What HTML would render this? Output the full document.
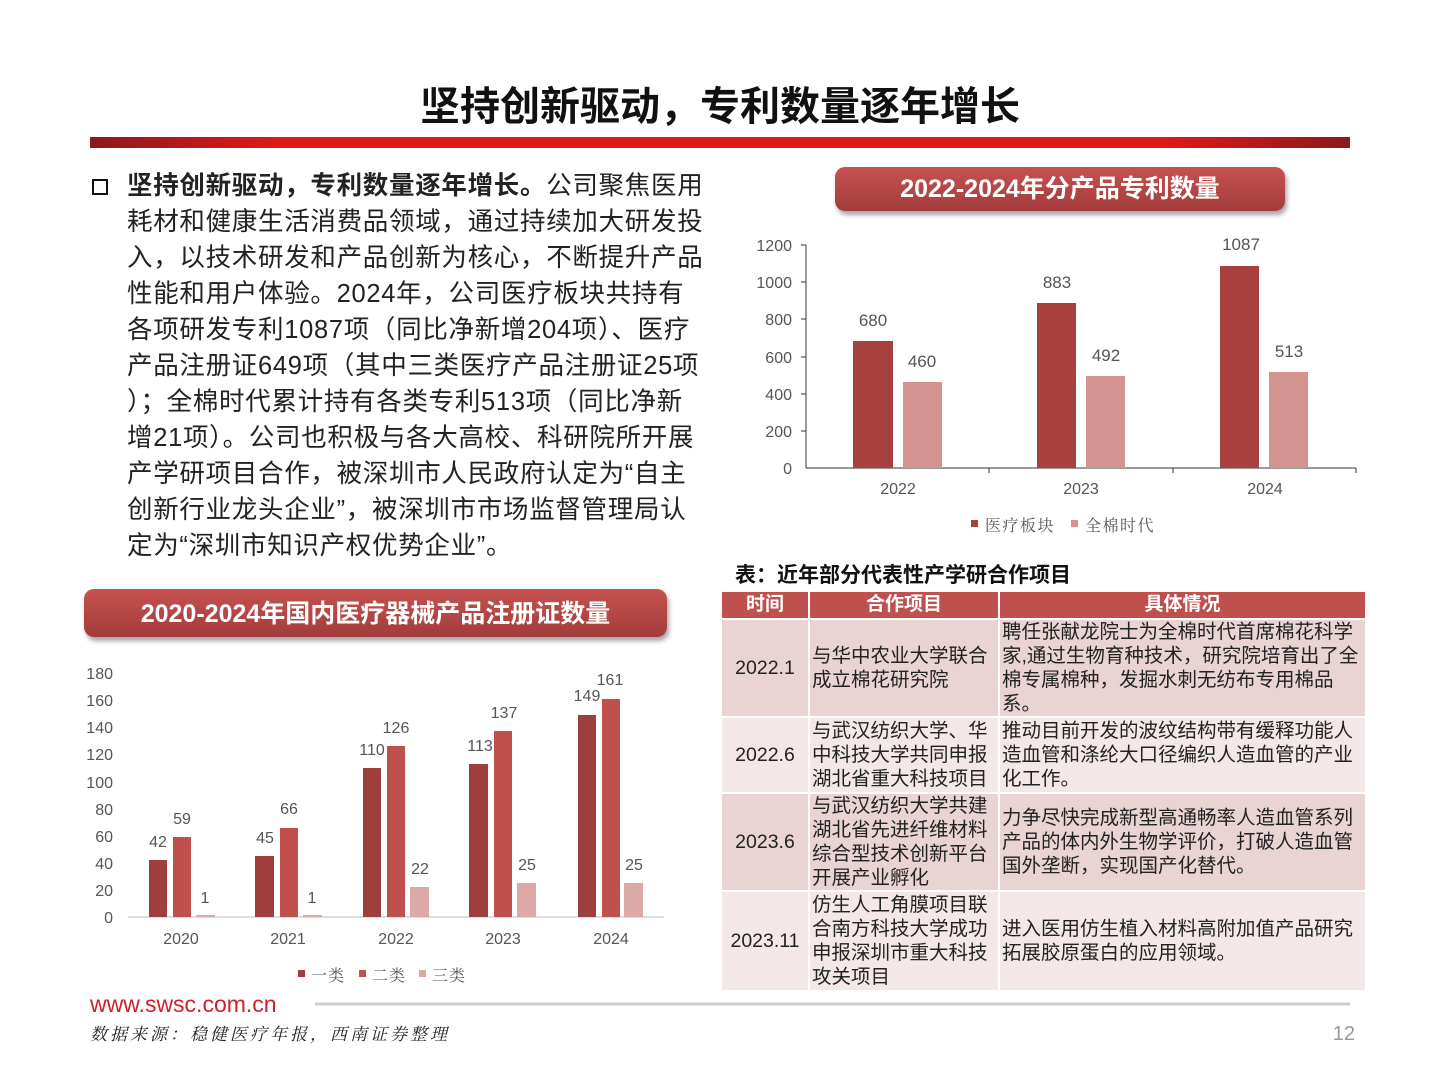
<!DOCTYPE html>
<html><head><meta charset="utf-8"><style>
*{margin:0;padding:0;box-sizing:border-box}
body{width:1440px;height:1080px;background:#fff;position:relative;overflow:hidden;font-family:"Liberation Sans","Noto Sans CJK SC",sans-serif;color:#222}
.abs{position:absolute}
.title{left:0;width:1440px;top:74px;text-align:center;font-size:40px;font-weight:bold;color:#111}
.redbar{left:90px;top:137px;width:1260px;height:11px;background:linear-gradient(90deg,#8a1a1a,#e01818 15%,#e01818 85%,#8a1a1a)}
.para{left:127px;top:168px;font-size:25.5px;line-height:36px;color:#222;white-space:nowrap;letter-spacing:0.7px}
.box{left:92px;top:179px;width:16px;height:16px;border:2.5px solid #111}
.pill{background:linear-gradient(#c55250,#a33c3b);color:#fff;font-weight:bold;text-align:center;border-radius:10px;box-shadow:2px 4px 5px rgba(0,0,0,.35)}
table{border-collapse:collapse;font-size:19.5px;line-height:24px}
td{border:2px solid #fff;vertical-align:middle;padding:0 2px;color:#222}
th{background:#c0504d;color:#fff;font-size:19px;border:2px solid #fff;height:28px}
.r1 td{background:#e9d3d3}.r2 td{background:#f3e7e7}
</style></head><body>
<div class="abs title">坚持创新驱动，专利数量逐年增长</div>
<div class="abs redbar"></div>
<div class="abs box"></div>
<div class="abs para"><b>坚持创新驱动，专利数量逐年增长。</b>公司聚焦医用<br>耗材和健康生活消费品领域，通过持续加大研发投<br>入，以技术研发和产品创新为核心，不断提升产品<br>性能和用户体验。2024年，公司医疗板块共持有<br>各项研发专利1087项（同比净新增204项）、医疗<br>产品注册证649项（其中三类医疗产品注册证25项<br>）；全棉时代累计持有各类专利513项（同比净新<br>增21项）。公司也积极与各大高校、科研院所开展<br>产学研项目合作，被深圳市人民政府认定为“自主<br>创新行业龙头企业”，被深圳市市场监督管理局认<br>定为“深圳市知识产权优势企业”。</div>

<div class="abs pill" style="left:835px;top:167px;width:450px;height:44px;font-size:25px;line-height:44px">2022-2024年分产品专利数量</div>
<div class="abs pill" style="left:84px;top:589px;width:583px;height:48px;font-size:25px;line-height:50px">2020-2024年国内医疗器械产品注册证数量</div>

<svg class="abs" style="left:0;top:0" width="1440" height="1080">
<g font-family="Liberation Sans,sans-serif" font-size="16" fill="#555">
<line x1="806" y1="245" x2="806" y2="468" stroke="#333"/>
<line x1="806" y1="468" x2="1356" y2="468" stroke="#333"/>
<g text-anchor="end">
<text x="792" y="251">1200</text><text x="792" y="288">1000</text><text x="792" y="325">800</text><text x="792" y="363">600</text><text x="792" y="400">400</text><text x="792" y="437">200</text><text x="792" y="474">0</text>
</g>
<g stroke="#333"><line x1="801" y1="245" x2="806" y2="245"/><line x1="801" y1="282" x2="806" y2="282"/><line x1="801" y1="319" x2="806" y2="319"/><line x1="801" y1="357" x2="806" y2="357"/><line x1="801" y1="394" x2="806" y2="394"/><line x1="801" y1="431" x2="806" y2="431"/><line x1="989" y1="468" x2="989" y2="473"/><line x1="1173" y1="468" x2="1173" y2="473"/><line x1="1356" y1="468" x2="1356" y2="473"/></g>
<rect x="853" y="341" width="40" height="127" fill="#a8403f"/>
<rect x="903" y="382" width="39" height="86" fill="#d39391"/>
<rect x="1037" y="303" width="39" height="165" fill="#a8403f"/>
<rect x="1086" y="376" width="39" height="92" fill="#d39391"/>
<rect x="1220" y="266" width="39" height="202" fill="#a8403f"/>
<rect x="1269" y="372" width="39" height="96" fill="#d39391"/>
<g text-anchor="middle" font-size="17">
<text x="873" y="326">680</text><text x="922" y="367">460</text><text x="1057" y="288">883</text><text x="1106" y="361">492</text><text x="1241" y="250">1087</text><text x="1289" y="357">513</text>
<text x="898" y="494" font-size="16">2022</text><text x="1081" y="494" font-size="16">2023</text><text x="1265" y="494" font-size="16">2024</text>
</g>
<rect x="971" y="520" width="7" height="7" fill="#a8403f"/><text x="985" y="531" font-size="16" letter-spacing="1.5" font-family="Noto Serif CJK SC,serif">医疗板块</text>
<rect x="1071" y="520" width="7" height="7" fill="#d39391"/><text x="1085" y="531" font-size="16" letter-spacing="1.5" font-family="Noto Serif CJK SC,serif">全棉时代</text>

<line x1="128" y1="917" x2="664" y2="917" stroke="#ddd" stroke-width="2"/>
<g text-anchor="end">
<text x="113" y="679">180</text><text x="113" y="706">160</text><text x="113" y="733">140</text><text x="113" y="760">120</text><text x="113" y="788">100</text><text x="113" y="815">80</text><text x="113" y="842">60</text><text x="113" y="869">40</text><text x="113" y="896">20</text><text x="113" y="923">0</text>
</g>
<g fill="#9e3f3d">
<rect x="149" y="860" width="18" height="57"/><rect x="255" y="856" width="19" height="61"/><rect x="363" y="768" width="18" height="149"/><rect x="469" y="764" width="19" height="153"/><rect x="578" y="715" width="18" height="202"/>
</g>
<g fill="#c0504d">
<rect x="173" y="837" width="18" height="80"/><rect x="280" y="828" width="18" height="89"/><rect x="387" y="746" width="18" height="171"/><rect x="494" y="731" width="18" height="186"/><rect x="602" y="699" width="18" height="218"/>
</g>
<g fill="#dca9a8">
<rect x="196" y="915" width="19" height="2"/><rect x="303" y="915" width="19" height="2"/><rect x="410" y="887" width="19" height="30"/><rect x="517" y="883" width="19" height="34"/><rect x="624" y="883" width="19" height="34"/>
</g>
<g text-anchor="middle" font-size="16">
<text x="158" y="847">42</text><text x="182" y="824">59</text><text x="205" y="903">1</text>
<text x="265" y="843">45</text><text x="289" y="814">66</text><text x="312" y="903">1</text>
<text x="372" y="755">110</text><text x="396" y="733">126</text><text x="420" y="874">22</text>
<text x="480" y="751">113</text><text x="504" y="718">137</text><text x="527" y="870">25</text>
<text x="587" y="701">149</text><text x="610" y="685">161</text><text x="634" y="870">25</text>
<text x="181" y="944">2020</text><text x="288" y="944">2021</text><text x="396" y="944">2022</text><text x="503" y="944">2023</text><text x="611" y="944">2024</text>
</g>
<g font-size="16" font-family="Noto Serif CJK SC,serif" letter-spacing="1">
<rect x="298" y="970" width="7" height="7" fill="#9e3f3d"/><text x="311" y="981">一类</text>
<rect x="359" y="970" width="7" height="7" fill="#c0504d"/><text x="372" y="981">二类</text>
<rect x="419" y="970" width="7" height="7" fill="#dca9a8"/><text x="432" y="981">三类</text>
</g>
</g>
<line x1="315" y1="1004" x2="1350" y2="1004" stroke="#ccc" stroke-width="3"/>
<text x="90" y="1012" font-family="Liberation Sans,sans-serif" font-size="23" fill="#d0202a">www.swsc.com.cn</text>
<text x="90" y="1040" font-family="Noto Serif CJK SC,serif" font-style="italic" font-size="17" letter-spacing="3" fill="#222">数据来源：稳健医疗年报，西南证券整理</text>
<text x="1355" y="1040" text-anchor="end" font-family="Liberation Sans,sans-serif" font-size="20" fill="#999">12</text>
</svg>

<div class="abs" style="left:735px;top:559px;font-size:21px;font-weight:bold;color:#111">表：近年部分代表性产学研合作项目</div>
<table class="abs" style="left:720px;top:590px;width:647px">
<tr><th style="width:88px">时间</th><th style="width:190px">合作项目</th><th>具体情况</th></tr>
<tr class="r1" style="height:98px"><td style="text-align:center">2022.1</td><td>与华中农业大学联合成立棉花研究院</td><td>聘任张献龙院士为全棉时代首席棉花科学家,通过生物育种技术，研究院培育出了全棉专属棉种，发掘水刺无纺布专用棉品系。</td></tr>
<tr class="r2" style="height:76px"><td style="text-align:center">2022.6</td><td>与武汉纺织大学、华中科技大学共同申报湖北省重大科技项目</td><td>推动目前开发的波纹结构带有缓释功能人造血管和涤纶大口径编织人造血管的产业化工作。</td></tr>
<tr class="r1" style="height:98px"><td style="text-align:center">2023.6</td><td>与武汉纺织大学共建湖北省先进纤维材料综合型技术创新平台开展产业孵化</td><td>力争尽快完成新型高通畅率人造血管系列产品的体内外生物学评价，打破人造血管国外垄断，实现国产化替代。</td></tr>
<tr class="r2" style="height:100px"><td style="text-align:center">2023.11</td><td>仿生人工角膜项目联合南方科技大学成功申报深圳市重大科技攻关项目</td><td>进入医用仿生植入材料高附加值产品研究拓展胶原蛋白的应用领域。</td></tr>
</table>
</body></html>
